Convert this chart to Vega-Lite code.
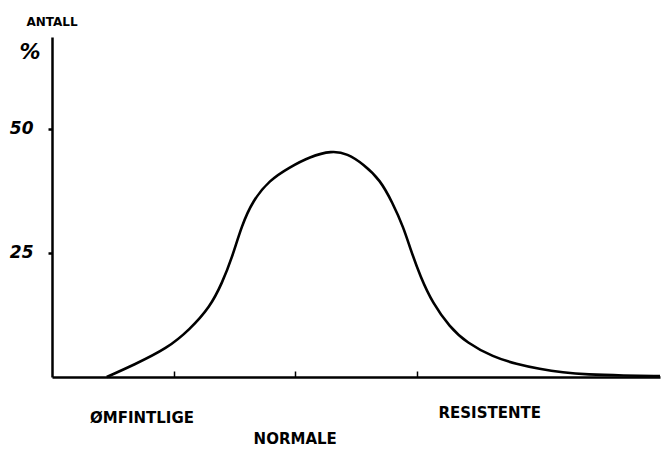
{
  "$schema": "https://vega.github.io/schema/vega-lite/v6.json",
  "autosize": {"type": "none"},
  "width": 608,
  "height": 340,
  "padding": {"left": 52, "top": 37, "right": 10, "bottom": 75},
  "background": "white",
  "config": {"view": {"stroke": null}},
  "datasets": {
    "curve": [
      {"x": 0.45, "y": 0}, {"x": 0.67, "y": 2.4}, {"x": 0.95, "y": 5.8}, {"x": 1.13, "y": 9.5},
      {"x": 1.30, "y": 14.1}, {"x": 1.40, "y": 19.0}, {"x": 1.48, "y": 24.0}, {"x": 1.56, "y": 30.5},
      {"x": 1.65, "y": 35.5}, {"x": 1.79, "y": 39.7}, {"x": 1.95, "y": 42.2},
      {"x": 2.12, "y": 44.4}, {"x": 2.30, "y": 45.6}, {"x": 2.43, "y": 45.0}, {"x": 2.56, "y": 42.9},
      {"x": 2.70, "y": 39.7}, {"x": 2.80, "y": 35.1}, {"x": 2.89, "y": 30.2}, {"x": 2.95, "y": 25.6},
      {"x": 3.03, "y": 20.2}, {"x": 3.13, "y": 14.9}, {"x": 3.27, "y": 10.1},
      {"x": 3.41, "y": 6.9}, {"x": 3.63, "y": 4.0}, {"x": 3.82, "y": 2.6}, {"x": 4.01, "y": 1.6},
      {"x": 4.20, "y": 0.9}, {"x": 4.40, "y": 0.5}, {"x": 4.70, "y": 0.3}, {"x": 5.0, "y": 0.2}
    ],
    "catlabels": [
      {"x": 0.74, "y": -8.3, "label": "ØMFINTLIGE"},
      {"x": 3.60, "y": -7.3, "label": "RESISTENTE"},
      {"x": 2.0, "y": -12.4, "label": "NORMALE"}
    ],
    "antall": [{"x": 0.0, "y": 71.6, "label": "ANTALL"}],
    "pct": [{"x": -0.18, "y": 65.3, "label": "%"}]
  },
  "layer": [
    {
      "data": {"name": "curve"},
      "mark": {"type": "line", "color": "black", "strokeWidth": 2.6, "interpolate": "basis", "clip": false},
      "encoding": {
        "x": {
          "field": "x", "type": "quantitative",
          "scale": {"domain": [0, 5], "nice": false, "zero": false},
          "axis": {
            "values": [1, 2, 3], "labels": false, "title": null, "grid": false,
            "domainColor": "black", "domainWidth": 2.5, "tickColor": "black",
            "tickWidth": 1.5, "tickSize": -6
          }
        },
        "y": {
          "field": "y", "type": "quantitative",
          "scale": {"domain": [0, 68.5], "nice": false},
          "axis": {
            "values": [25, 50], "title": null, "grid": false,
            "domainColor": "black", "domainWidth": 2.5, "tickColor": "black",
            "tickWidth": 2.5, "tickSize": 4, "tickOffset": 0,
            "labelFont": "DejaVu Sans", "labelFontWeight": "bold", "labelFontStyle": "italic",
            "labelFontSize": 17, "labelColor": "black", "labelPadding": 15
          }
        }
      }
    },
    {
      "data": {"name": "catlabels"},
      "mark": {"type": "text", "font": "DejaVu Sans", "fontWeight": "bold", "fontSize": 15, "color": "black", "align": "center", "baseline": "middle"},
      "encoding": {
        "x": {"field": "x", "type": "quantitative"},
        "y": {"field": "y", "type": "quantitative"},
        "text": {"field": "label"}
      }
    },
    {
      "data": {"name": "antall"},
      "mark": {"type": "text", "font": "DejaVu Sans", "fontWeight": "bold", "fontSize": 12, "color": "black", "align": "center", "baseline": "middle"},
      "encoding": {
        "x": {"field": "x", "type": "quantitative"},
        "y": {"field": "y", "type": "quantitative"},
        "text": {"field": "label"}
      }
    },
    {
      "data": {"name": "pct"},
      "mark": {"type": "text", "font": "DejaVu Sans", "fontWeight": "bold", "fontStyle": "italic", "fontSize": 21, "color": "black", "align": "center", "baseline": "middle"},
      "encoding": {
        "x": {"field": "x", "type": "quantitative"},
        "y": {"field": "y", "type": "quantitative"},
        "text": {"field": "label"}
      }
    }
  ]
}
